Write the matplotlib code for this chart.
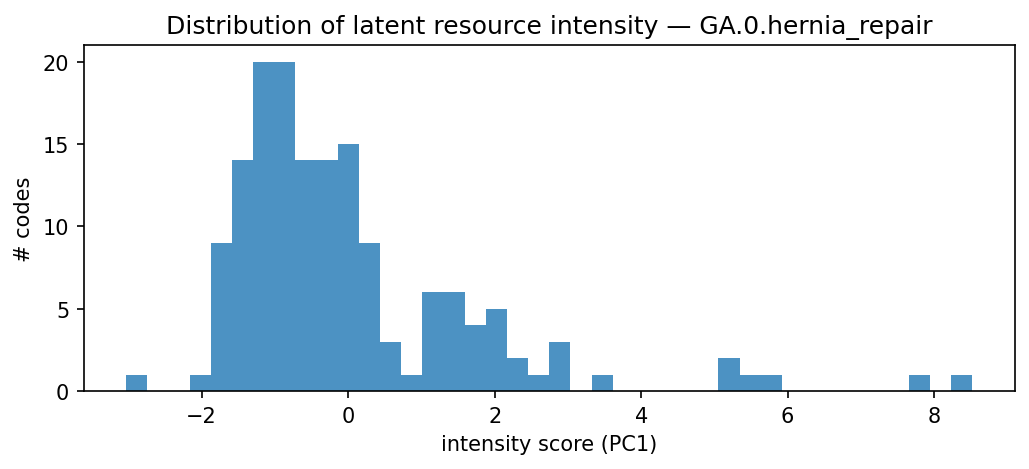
import matplotlib
matplotlib.use("Agg")
import matplotlib.pyplot as plt
import numpy as np

# histogram of PC1 scores, 40 equal bins between min and max
score_min = -3.03
score_max = 8.52
counts = [1, 0, 0, 1, 9, 14, 20, 20, 14, 14,
          15, 9, 3, 1, 6, 6, 4, 5, 2, 1,
          3, 0, 1, 0, 0, 0, 0, 0, 2, 1,
          1, 0, 0, 0, 0, 0, 0, 1, 0, 1]

edges = np.linspace(score_min, score_max, len(counts) + 1)

fig, ax = plt.subplots(figsize=(6.86, 3.133), dpi=150)
ax.hist(edges[:-1], bins=edges, weights=counts, color="C0", alpha=0.8)
ax.set_title("Distribution of latent resource intensity — GA.0.hernia_repair")
ax.set_xlabel("intensity score (PC1)")
ax.set_ylabel("# codes")
fig.subplots_adjust(left=0.0815, right=0.986, top=0.902, bottom=0.166)
fig.savefig("out.png", dpi=150)
plt.close(fig)
